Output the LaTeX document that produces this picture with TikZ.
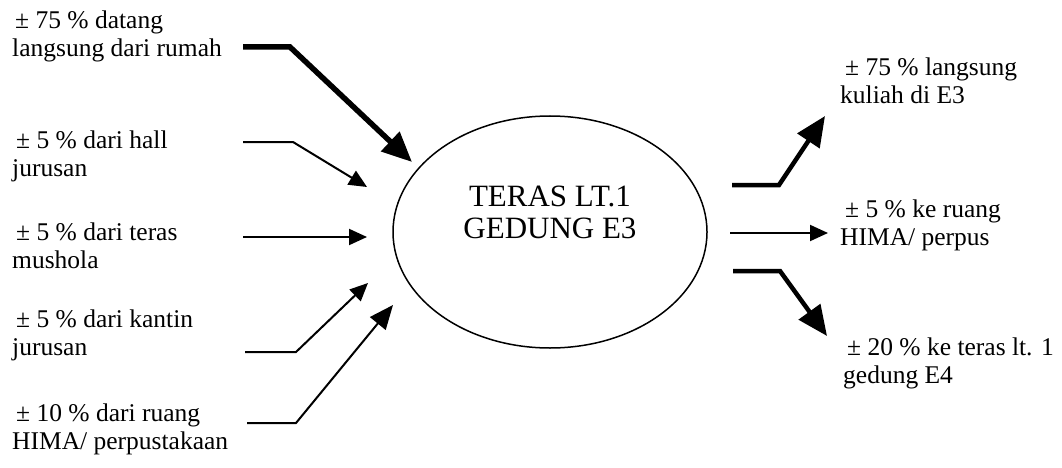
\documentclass[tikz,border=0pt]{standalone}
\usepackage{fontspec}
\setmainfont{Liberation Serif}
\usetikzlibrary{arrows.meta,shapes.geometric}
\begin{document}
\begin{tikzpicture}[x=1pt,y=-1pt,
  lbl/.style={anchor=base west, align=left, inner sep=0pt, font=\fontsize{25.5}{28}\selectfont},
  thinarrow/.style={line width=2pt, -{Triangle[length=18pt,width=16pt]}},
  midarrow/.style={line width=2pt, -{Triangle[length=24pt,width=20pt]}},
  thickarrow/.style={line width=5.5pt, -{Triangle[length=30pt,width=26pt]}},
  thickarrowr/.style={line width=4.5pt, -{Triangle[length=30pt,width=26pt]}},
]
\useasboundingbox (0,0) rectangle (1062,468);
\fill[white] (0,0) rectangle (1062,468);

% central ellipse
\node[draw, ellipse, line width=1.5pt, minimum width=314pt, minimum height=232pt, inner sep=0pt] (teras) at (550,232) {};
\node[anchor=base, align=center, inner sep=0pt, font=\fontsize{31}{32}\selectfont] (terastext) at (550,238) {TERAS LT.1\\GEDUNG E3};

% left labels (anchor = baseline of last line)
\node[lbl] (l1) at (12,57)  {\hspace{3pt}± 75 \% datang\\langsung dari rumah};
\node[lbl] (l2) at (12,176) {\hspace{4pt}± 5 \% dari hall\\jurusan};
\node[lbl] (l3) at (12,268) {\hspace{4pt}± 5 \% dari teras\\mushola};
\node[lbl] (l4) at (12,355) {\hspace{4pt}± 5 \% dari kantin\\jurusan};
\node[lbl] (l5) at (12,449) {\hspace{4pt}± 10 \% dari ruang\\HIMA/ perpustakaan};

% right labels
\node[lbl] (r1) at (840,103) {\hspace{5pt}± 75 \% langsung\\kuliah di E3};
\node[lbl] (r2) at (840,245) {\hspace{5pt}± 5 \% ke ruang\\HIMA/ perpus};
\node[lbl] (r3) at (843,383) {\hspace{4pt}± 20 \% ke teras lt. 1\\gedung E4};

% connector points
\coordinate (a1s) at (243,47);  \coordinate (a1b) at (290,47);  \coordinate (a1e) at (412,162);
\coordinate (a2s) at (243,142); \coordinate (a2b) at (293,142); \coordinate (a2e) at (367,187);
\coordinate (a3s) at (243,237); \coordinate (a3e) at (367,237);
\coordinate (a4s) at (245,352); \coordinate (a4b) at (296,352); \coordinate (a4e) at (368,283);
\coordinate (a5s) at (247,423); \coordinate (a5b) at (296,423); \coordinate (a5e) at (393,305);
\coordinate (b1s) at (732,185); \coordinate (b1b) at (779,185); \coordinate (b1e) at (825,116);
\coordinate (b2s) at (730,233); \coordinate (b2e) at (828,233);
\coordinate (b3s) at (733,271); \coordinate (b3b) at (780,271); \coordinate (b3e) at (827,336);

\draw[thickarrow] (a1s) -- (a1b) -- (a1e);
\draw[thinarrow]  (a2s) -- (a2b) -- (a2e);
\draw[thinarrow]  (a3s) -- (a3e);
\draw[thinarrow]  (a4s) -- (a4b) -- (a4e);
\draw[midarrow]   (a5s) -- (a5b) -- (a5e);
\draw[thickarrowr] (b1s) -- (b1b) -- (b1e);
\draw[thinarrow]  (b2s) -- (b2e);
\draw[thickarrowr] (b3s) -- (b3b) -- (b3e);
\end{tikzpicture}
\end{document}
